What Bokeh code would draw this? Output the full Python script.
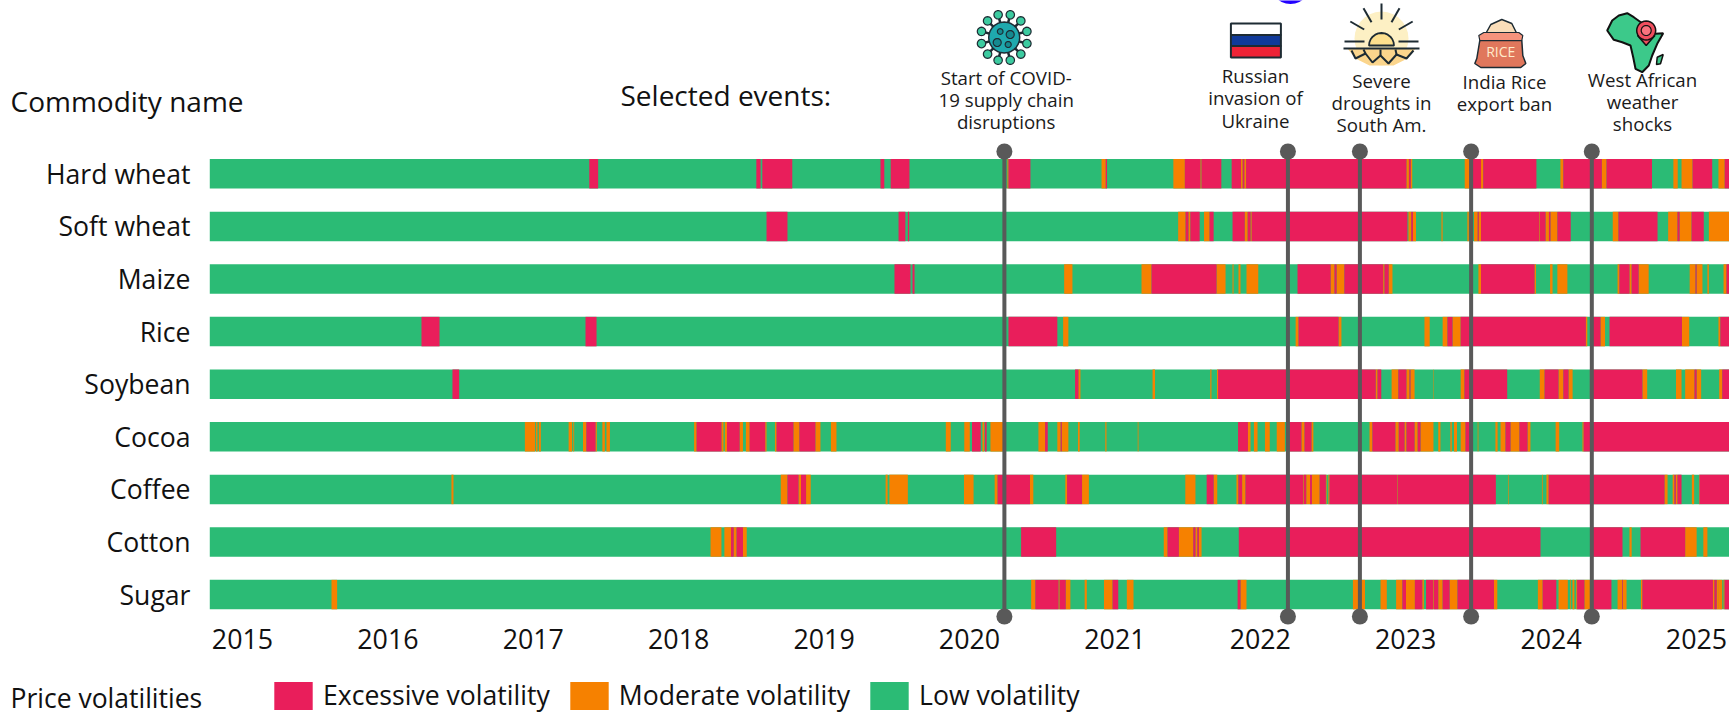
import math
from bokeh.plotting import figure
from bokeh.embed import file_html
from bokeh.resources import INLINE
from bokeh.core.properties import value
from bokeh.models import Range1d, FixedTicker, Legend, LegendItem, ColumnDataSource

commodities = ["Hard wheat", "Soft wheat", "Maize", "Rice", "Soybean", "Cocoa", "Coffee", "Cotton", "Sugar"]
year_ticks = [2015, 2016, 2017, 2018, 2019, 2020, 2021, 2022, 2023, 2024, 2025]
period_start, period_end = 2014.775, 2025.23

# Spells that are not low volatility: (start, end, level). E = excessive, M = moderate.
hard_wheat = [(2017.385,2017.446,"E"),(2018.534,2018.563,"E"),(2018.575,2018.766,"E"),(2018.766,2018.781,"E"),(2019.388,2019.414,"E"),(2019.458,2019.587,"E"),
 (2020.261,2020.268,"M"),(2020.268,2020.419,"E"),(2020.908,2020.937,"M"),(2020.937,2020.946,"E"),(2021.402,2021.481,"M"),(2021.481,2021.588,"E"),(2021.588,2021.596,"M"),(2021.596,2021.732,"E"),
 (2021.803,2021.867,"E"),(2021.867,2021.879,"M"),(2021.879,2021.890,"E"),(2021.890,2021.902,"M"),(2021.902,2023.005,"E"),(2023.005,2023.022,"M"),(2023.022,2023.035,"E"),(2023.035,2023.045,"M"),
 (2023.406,2023.437,"M"),(2023.437,2023.518,"E"),(2023.518,2023.533,"M"),(2023.533,2023.899,"E"),(2024.064,2024.084,"M"),(2024.084,2024.349,"E"),(2024.349,2024.381,"M"),(2024.381,2024.694,"E"),
 (2024.841,2024.871,"M"),(2024.897,2024.973,"M"),(2024.973,2025.108,"E"),(2025.151,2025.194,"M"),(2025.194,2025.23,"E")]
soft_wheat = [(2018.604,2018.748,"E"),(2019.512,2019.559,"E"),(2019.576,2019.585,"E"),(2021.435,2021.486,"M"),(2021.486,2021.506,"E"),(2021.506,2021.519,"M"),(2021.519,2021.583,"E"),
 (2021.613,2021.651,"M"),(2021.651,2021.679,"E"),(2021.809,2021.893,"E"),(2021.893,2021.913,"M"),(2021.913,2021.933,"E"),(2021.933,2021.941,"M"),(2021.941,2023.012,"E"),(2023.019,2023.038,"M"),
 (2023.038,2023.050,"E"),(2023.050,2023.071,"M"),(2023.246,2023.254,"M"),(2023.424,2023.434,"M"),(2023.470,2023.495,"M"),(2023.495,2023.503,"E"),(2023.503,2023.518,"M"),(2023.518,2023.917,"E"),
 (2023.917,2023.922,"M"),(2023.922,2023.962,"E"),(2023.962,2023.985,"M"),(2023.985,2023.996,"E"),(2023.996,2024.043,"M"),(2024.043,2024.135,"E"),(2024.424,2024.463,"M"),(2024.463,2024.732,"E"),
 (2024.805,2024.869,"M"),(2024.869,2024.884,"E"),(2024.884,2024.966,"M"),(2024.966,2025.050,"E"),(2025.085,2025.23,"M")]
maize = [(2019.484,2019.594,"E"),(2019.608,2019.622,"E"),(2020.651,2020.708,"M"),(2021.183,2021.252,"M"),(2021.252,2021.699,"E"),(2021.699,2021.761,"M"),(2021.809,2021.816,"M"),(2021.850,2021.864,"M"),
 (2021.905,2021.986,"M"),(2022.256,2022.484,"E"),(2022.484,2022.510,"M"),(2022.510,2022.525,"E"),(2022.525,2022.578,"M"),(2022.578,2022.845,"E"),(2022.845,2022.854,"M"),(2022.854,2022.883,"E"),
 (2022.883,2022.909,"M"),(2023.500,2023.518,"M"),(2023.518,2023.886,"E"),(2023.886,2023.896,"M"),(2023.993,2024.010,"M"),(2024.043,2024.112,"M"),(2024.457,2024.470,"M"),(2024.470,2024.539,"E"),
 (2024.539,2024.554,"M"),(2024.554,2024.602,"E"),(2024.602,2024.671,"M"),(2024.953,2024.993,"M"),(2024.993,2025.001,"E"),(2025.001,2025.041,"M"),(2025.075,2025.085,"M"),(2025.186,2025.206,"M"),(2025.206,2025.23,"E")]
rice = [(2016.231,2016.355,"E"),(2017.359,2017.435,"E"),(2020.268,2020.604,"E"),(2020.644,2020.680,"M"),(2022.243,2022.263,"M"),(2022.263,2022.538,"E"),(2022.538,2022.558,"M"),(2023.129,2023.165,"M"),
 (2023.254,2023.287,"M"),(2023.287,2023.322,"E"),(2023.322,2023.378,"M"),(2023.378,2024.239,"E"),(2024.239,2024.249,"M"),(2024.271,2024.340,"E"),(2024.340,2024.371,"M"),(2024.402,2024.900,"E"),
 (2024.900,2024.950,"M"),(2025.151,2025.164,"M"),(2025.164,2025.23,"E")]
soybean = [(2016.444,2016.490,"E"),(2020.726,2020.749,"E"),(2020.749,2020.763,"M"),(2021.259,2021.276,"M"),(2021.656,2021.664,"M"),(2021.702,2021.710,"M"),(2021.710,2022.794,"E"),(2022.794,2022.806,"M"),
 (2022.806,2022.832,"E"),(2022.903,2022.949,"M"),(2022.949,2023.005,"E"),(2023.005,2023.026,"M"),(2023.026,2023.033,"E"),(2023.033,2023.061,"M"),(2023.188,2023.191,"M"),(2023.378,2023.404,"M"),
 (2023.404,2023.698,"E"),(2023.922,2023.955,"M"),(2023.955,2024.051,"E"),(2024.051,2024.084,"M"),(2024.084,2024.120,"E"),(2024.120,2024.148,"M"),(2024.267,2024.628,"E"),(2024.628,2024.661,"M"),
 (2024.859,2024.897,"M"),(2024.922,2024.986,"M"),(2024.986,2025.001,"E"),(2025.001,2025.032,"M"),(2025.156,2025.177,"M"),(2025.177,2025.23,"E")]
cocoa = [(2016.942,2017.012,"M"),(2017.018,2017.029,"M"),(2017.038,2017.052,"M"),(2017.243,2017.267,"M"),(2017.275,2017.281,"M"),(2017.342,2017.365,"M"),(2017.365,2017.428,"E"),(2017.428,2017.437,"M"),
 (2017.475,2017.492,"M"),(2017.503,2017.527,"M"),(2018.106,2018.123,"M"),(2018.123,2018.294,"E"),(2018.294,2018.308,"M"),(2018.317,2018.332,"M"),(2018.332,2018.419,"E"),(2018.419,2018.442,"M"),
 (2018.462,2018.488,"M"),(2018.488,2018.595,"E"),(2018.595,2018.604,"M"),(2018.662,2018.673,"M"),(2018.673,2018.789,"E"),(2018.789,2018.830,"M"),(2018.830,2018.940,"E"),(2018.940,2018.975,"M"),
 (2019.047,2019.085,"M"),(2019.837,2019.871,"M"),(2019.964,2020.002,"M"),(2020.017,2020.077,"E"),(2020.089,2020.101,"M"),(2020.106,2020.118,"E"),(2020.144,2020.237,"M"),(2020.474,2020.520,"M"),
 (2020.520,2020.538,"E"),(2020.604,2020.627,"M"),(2020.627,2020.635,"E"),(2020.635,2020.680,"M"),(2020.746,2020.758,"M"),(2020.934,2020.942,"M"),(2021.157,2021.162,"M"),(2021.847,2021.915,"E"),
 (2021.915,2021.933,"M"),(2021.956,2021.981,"M"),(2022.032,2022.065,"M"),(2022.113,2022.169,"M"),(2022.187,2022.283,"E"),(2022.283,2022.304,"M"),(2022.304,2022.352,"E"),(2022.352,2022.365,"M"),
 (2022.751,2022.771,"M"),(2022.771,2022.929,"E"),(2022.929,2022.952,"M"),(2022.952,2022.992,"E"),(2022.992,2023.005,"M"),(2023.005,2023.061,"E"),(2023.061,2023.082,"M"),(2023.082,2023.102,"E"),
 (2023.102,2023.191,"M"),(2023.224,2023.239,"M"),(2023.307,2023.317,"M"),(2023.332,2023.353,"M"),(2023.378,2023.411,"M"),(2023.411,2023.455,"E"),(2023.495,2023.500,"M"),(2023.617,2023.632,"M"),
 (2023.652,2023.686,"M"),(2023.686,2023.721,"E"),(2023.721,2023.782,"M"),(2023.782,2023.838,"E"),(2023.838,2023.858,"M"),(2024.031,2024.056,"M"),(2024.216,2024.224,"M"),(2024.224,2025.23,"E")]
coffee = [(2016.437,2016.451,"M"),(2018.702,2018.748,"M"),(2018.748,2018.824,"E"),(2018.824,2018.841,"M"),(2018.841,2018.876,"E"),(2018.876,2018.908,"M"),(2019.423,2019.437,"M"),(2019.449,2019.576,"M"),
 (2019.962,2020.028,"M"),(2020.173,2020.193,"M"),(2020.193,2020.416,"E"),(2020.416,2020.439,"M"),(2020.659,2020.671,"M"),(2020.671,2020.774,"E"),(2020.774,2020.821,"M"),(2021.484,2021.554,"M"),
 (2021.631,2021.679,"E"),(2021.679,2021.704,"M"),(2021.836,2021.849,"M"),(2021.849,2021.875,"E"),(2021.875,2021.898,"M"),(2021.898,2022.294,"E"),(2022.294,2022.299,"M"),(2022.299,2022.316,"E"),
 (2022.316,2022.342,"M"),(2022.342,2022.355,"E"),(2022.355,2022.408,"M"),(2022.408,2022.451,"E"),(2022.451,2022.456,"M"),(2022.468,2022.476,"M"),(2022.476,2022.942,"E"),(2022.942,2022.946,"M"),
 (2022.946,2023.620,"E"),(2023.706,2023.710,"M"),(2023.937,2023.942,"M"),(2023.968,2023.983,"M"),(2023.983,2024.780,"E"),(2024.780,2024.801,"M"),(2024.836,2024.848,"M"),(2024.848,2024.858,"E"),
 (2024.858,2024.869,"M"),(2024.869,2024.897,"E"),(2024.968,2024.984,"M"),(2025.017,2025.021,"M"),(2025.021,2025.23,"E")]
cotton = [(2018.219,2018.294,"M"),(2018.314,2018.360,"M"),(2018.360,2018.378,"E"),(2018.378,2018.398,"M"),(2018.398,2018.442,"E"),(2018.442,2018.468,"M"),(2020.355,2020.596,"E"),(2021.336,2021.362,"M"),
 (2021.362,2021.440,"E"),(2021.440,2021.539,"M"),(2021.539,2021.554,"E"),(2021.554,2021.567,"M"),(2021.567,2021.578,"E"),(2021.578,2021.596,"M"),(2021.852,2023.927,"E"),(2024.274,2024.491,"E"),
 (2024.539,2024.554,"M"),(2024.615,2024.922,"E"),(2024.922,2025.001,"M"),(2025.047,2025.075,"M")]
sugar = [(2015.612,2015.651,"M"),(2020.424,2020.453,"M"),(2020.453,2020.612,"E"),(2020.612,2020.620,"M"),(2020.620,2020.662,"E"),(2020.662,2020.694,"M"),(2020.792,2020.807,"M"),(2020.925,2020.984,"M"),
 (2020.984,2021.023,"E"),(2021.082,2021.128,"M"),(2021.844,2021.864,"E"),(2021.864,2021.905,"M"),(2022.637,2022.720,"M"),(2022.827,2022.870,"M"),(2022.934,2022.977,"M"),(2022.977,2023.002,"E"),
 (2023.002,2023.063,"M"),(2023.063,2023.114,"E"),(2023.114,2023.125,"M"),(2023.140,2023.188,"E"),(2023.188,2023.193,"M"),(2023.193,2023.224,"E"),(2023.224,2023.254,"M"),(2023.254,2023.302,"E"),
 (2023.302,2023.356,"M"),(2023.356,2023.607,"E"),(2023.607,2023.630,"M"),(2023.909,2023.942,"M"),(2023.942,2024.036,"E"),(2024.051,2024.115,"M"),(2024.130,2024.135,"M"),(2024.147,2024.160,"M"),
 (2024.173,2024.179,"M"),(2024.179,2024.229,"E"),(2024.229,2024.267,"M"),(2024.267,2024.415,"E"),(2024.457,2024.488,"M"),(2024.488,2024.493,"E"),(2024.493,2024.519,"M"),(2024.618,2024.628,"M"),
 (2024.628,2025.113,"E"),(2025.113,2025.123,"M"),(2025.123,2025.139,"E"),(2025.139,2025.149,"M"),(2025.149,2025.177,"M"),(2025.186,2025.193,"M"),(2025.193,2025.23,"E")]
all_rows = [hard_wheat, soft_wheat, maize, rice, soybean, cocoa, coffee, cotton, sugar]

event_years = [2020.24, 2022.19, 2022.685, 2023.45, 2024.28]
event_lines = [["Start of COVID-", "19 supply chain", "disruptions"], ["Russian", "invasion of", "Ukraine"],
               ["Severe", "droughts in", "South Am."], ["India Rice", "export ban"], ["West African", "weather", "shocks"]]

RED, ORANGE, GREEN, GREY, INK = "#E91E5B", "#F68100", "#2BBB75", "#595959", "#111111"
FONT = value("Open Sans")

W, H = 1729, 713
AXIS_LEFT, AXIS_BOTTOM = 210, 622.5
PPY, PPR, ROW0 = 145.4, 52.6, 173.3        # px per year, px per row, first row centre
BASE = 0.43                                 # baseline shift of the svg text, in em

def X(px): return 2015 + (px - 242) / PPY
def Y(py): return (py - ROW0) / PPR

p = figure(width=W, height=H, output_backend="svg", toolbar_location=None,
           x_range=Range1d(X(0), X(W)), y_range=Range1d(Y(H), Y(0)),
           min_border=0, margin=(0, 0, 0, 0),
           outline_line_color=None, background_fill_color="white", border_fill_color="white")
p.grid.visible = False

ax = p.xaxis[0]
ax.fixed_location = Y(AXIS_BOTTOM)
ax.ticker = FixedTicker(ticks=year_ticks)
ax.formatter.use_scientific = False
ax.axis_line_color = None
ax.major_tick_line_color = None
ax.minor_tick_line_color = None
ax.major_label_text_font = "Open Sans"
ax.major_label_text_font_size = "26.8px"
ax.major_label_text_color = INK
ax.major_label_standoff = 0

ay = p.yaxis[0]
ay.fixed_location = X(AXIS_LEFT)
ay.ticker = FixedTicker(ticks=list(range(len(commodities))))
ay.major_label_overrides = {i: c for i, c in enumerate(commodities)}
ay.axis_line_color = None
ay.major_tick_line_color = None
ay.minor_tick_line_color = None
ay.major_label_text_font = "Open Sans"
ay.major_label_text_font_size = "26.6px"
ay.major_label_text_color = INK
ay.major_label_standoff = 14

BAR = 29.5 / PPR
idx = list(range(len(commodities)))
r_low = p.hbar(y=idx, left=[period_start] * len(idx), right=[period_end] * len(idx), height=BAR, color=GREEN, line_color=None)

def spells(level):
    ys, ls, rs = [], [], []
    for i, row in enumerate(all_rows):
        for a, b, k in row:
            if k == level:
                ys.append(i); ls.append(a); rs.append(b)
    return ColumnDataSource(dict(y=ys, left=ls, right=rs))

r_mod = p.hbar(y="y", left="left", right="right", height=BAR, color=ORANGE, line_color=None, source=spells("M"))
r_exc = p.hbar(y="y", left="left", right="right", height=BAR, color=RED, line_color=None, source=spells("E"))

# event markers
top, bottom = Y(151), Y(616)
p.segment(x0=event_years, x1=event_years, y0=[top] * 5, y1=[bottom] * 5, line_color=GREY, line_width=4)
p.scatter(x=event_years + event_years, y=[top] * 5 + [bottom] * 5, size=16, color=GREY, line_color=None)

# event labels (centre x and baseline of the first line, in px)
label_cx = [1005.7, 1255, 1381, 1504, 1642]
label_base = [85, 83.3, 88, 89, 87]
EV = 18.7
tx, ty, tt = [], [], []
for cx, b, lines in zip(label_cx, label_base, event_lines):
    for j, t in enumerate(lines):
        tx.append(X(cx)); ty.append(Y(b + j * 22.2 - BASE * EV)); tt.append(t)
p.text(x=tx, y=ty, text=tt, text_font=FONT, text_font_size=f"{EV}px", text_color="#1a1a1a", text_align="center", text_baseline="alphabetic")

def label(text, px, py, size):
    p.text(x=[X(px)], y=[Y(py - BASE * size)], text=[text], text_font=FONT, text_font_size=f"{size}px", text_color=INK,
           text_align="left", text_baseline="alphabetic")

label("Commodity name", 10, 113, 28)
label("Selected events:", 620, 107, 28)
label("Price volatilities", 10, 709, 26.5)

leg = Legend(items=[LegendItem(label="Excessive volatility", renderers=[r_exc]),
                    LegendItem(label="Moderate volatility", renderers=[r_mod]),
                    LegendItem(label="Low volatility", renderers=[r_low])],
             orientation="horizontal", location=(269, 0), padding=0, margin=0, spacing=15,
             glyph_width=48, glyph_height=35, label_standoff=6, label_height=35, label_width=10,
             label_text_font="Open Sans", label_text_font_size="26.6px", label_text_color=INK,
             background_fill_alpha=0, border_line_color=None, click_policy="none")
p.add_layout(leg, "center")

# ---- decorative icons, drawn in px offsets around a centre ----
DARK = "#1d2b33"
def poly(cx, cy, pts, fill, line=None, lw=1.5):
    p.patch([X(cx + a) for a, b in pts], [Y(cy + b) for a, b in pts], fill_color=fill, line_color=line, line_width=lw)
def disc(cx, cy, r, fill, line=None, lw=1.5):
    n = 28
    poly(cx, cy, [(r * math.cos(2 * math.pi * i / n), r * math.sin(2 * math.pi * i / n)) for i in range(n)], fill, line, lw)
def stroke(cx, cy, pts, col=DARK, lw=2):
    p.line([X(cx + a) for a, b in pts], [Y(cy + b) for a, b in pts], line_color=col, line_width=lw)

# virus
vx, vy = 1003.7, 37
for k in range(12):
    a = 2 * math.pi * (k + 0.5) / 12
    stroke(vx, vy, [(12 * math.cos(a), 12 * math.sin(a)), (23.5 * math.cos(a), 23.5 * math.sin(a))], DARK, 2.5)
    disc(vx + 23.5 * math.cos(a), vy + 23.5 * math.sin(a), 4.2, "#3CCBA0", DARK, 1.2)
disc(vx, vy, 15.5, "#1FA9AE", DARK, 1.5)
for dx, dy, r in [(-7, 5, 4), (6, -3, 4), (-4, -6, 2.8), (4, 7, 3)]:
    disc(vx + dx, vy + dy, r, "#158A90", DARK, 1.2)

# flag
fx, fy = 1255.4, 40
poly(fx, fy, [(-25, -17), (25, -17), (25, -5.5), (-25, -5.5)], "white", DARK, 2)
poly(fx, fy, [(-25, -5.5), (25, -5.5), (25, 5.5), (-25, 5.5)], "#103A9A", DARK, 2)
poly(fx, fy, [(-25, 5.5), (25, 5.5), (25, 17), (-25, 17)], "#EE2336", DARK, 2)

# sun over cracked ground
sx, sy = 1381, 41
disc(sx, sy - 3, 27, "#FDF0C4")
sun = [(12.5 * math.cos(math.radians(t)), 4 + 12.5 * math.sin(math.radians(t))) for t in range(180, 361, 15)]
poly(sx, sy, sun, "#FDE08E", DARK, 1.8)
for a in [-90, -60, -120, -30, -150]:
    c, s = math.cos(math.radians(a)), math.sin(math.radians(a))
    stroke(sx, sy, [(20 * c, 20 * s - 2), (36 * c, 36 * s - 2)])
stroke(sx, sy, [(-37, 0), (-17, 0)]); stroke(sx, sy, [(17, 0), (37, 0)])
poly(sx, sy, [(-34, 7), (34, 7), (26, 17), (12, 24), (-12, 24), (-26, 17)], "#FBD58C")
stroke(sx, sy, [(-38, 7), (38, 7)], DARK, 2)
stroke(sx, sy, [(-30, 9), (-26, 17), (-16, 12), (-9, 21), (-1, 14), (7, 22), (15, 13), (25, 17), (32, 9)], DARK, 2)
stroke(sx, sy, [(-16, 12), (-18, 8)], DARK, 2); stroke(sx, sy, [(-1, 14), (-1, 8)], DARK, 2); stroke(sx, sy, [(15, 13), (14, 8)], DARK, 2)

# rice sack
rx, ry = 1500.3, 43
poly(rx, ry, [(-15, -10), (-10, -19), (1, -24), (11, -20), (16, -10)], "#F9DDB9", DARK, 1.5)
poly(rx, ry, [(-21, -3), (-24, 15), (-26, 20), (-20, 24), (20, 24), (25, 20), (22, 12), (21, -3)], "#E0775C", DARK, 1.5)
poly(rx, ry, [(-22, -8), (-17, -11), (18, -11), (22, -8), (21, -3), (-21, -3)], "#F6937C", DARK, 1.2)
p.text(x=[X(rx)], y=[Y(ry + 13.7 - BASE * 14)], text=["RICE"], text_font=FONT, text_font_size="14px", text_color="#FFEBCB",
       text_align="center", text_baseline="alphabetic")

# Africa with pin
ax_, ay_ = 1635, 41
poly(ax_, ay_, [(-28.3, -11), (-23.3, -21), (-16.7, -26), (-8.3, -28.3), (-1.7, -24.3), (6.7, -18.3), (13.3, -16), (20, -7.7), (27.7, -8.3), (21.7, 2.3),
                (16.7, 14), (13.3, 24), (6.7, 30.7), (0, 27.3), (-2.3, 15.7), (-5, 4), (-13.3, 0.7), (-21.7, -1.7)], "#3CC98A", "#111111", 2)
poly(ax_, ay_, [(21.7, 15.7), (27.7, 13), (25, 22.3), (21, 23)], "#3CC98A", "#111111", 1.5)
poly(ax_, ay_, [(2, -6), (10.7, 4), (19.4, -6)], "#F04E5E", "#111111", 1.5)
disc(ax_ + 10.7, ay_ - 11, 9.5, "#F04E5E", "#111111", 1.5)
disc(ax_ + 10.7, ay_ - 11, 5, "#F8737E", "#111111", 1.2)

# clipped blue disc at the very top edge
disc(1290, -17, 20.5, "#2200FF")

open("out.html", "w").write(file_html(p, INLINE))
